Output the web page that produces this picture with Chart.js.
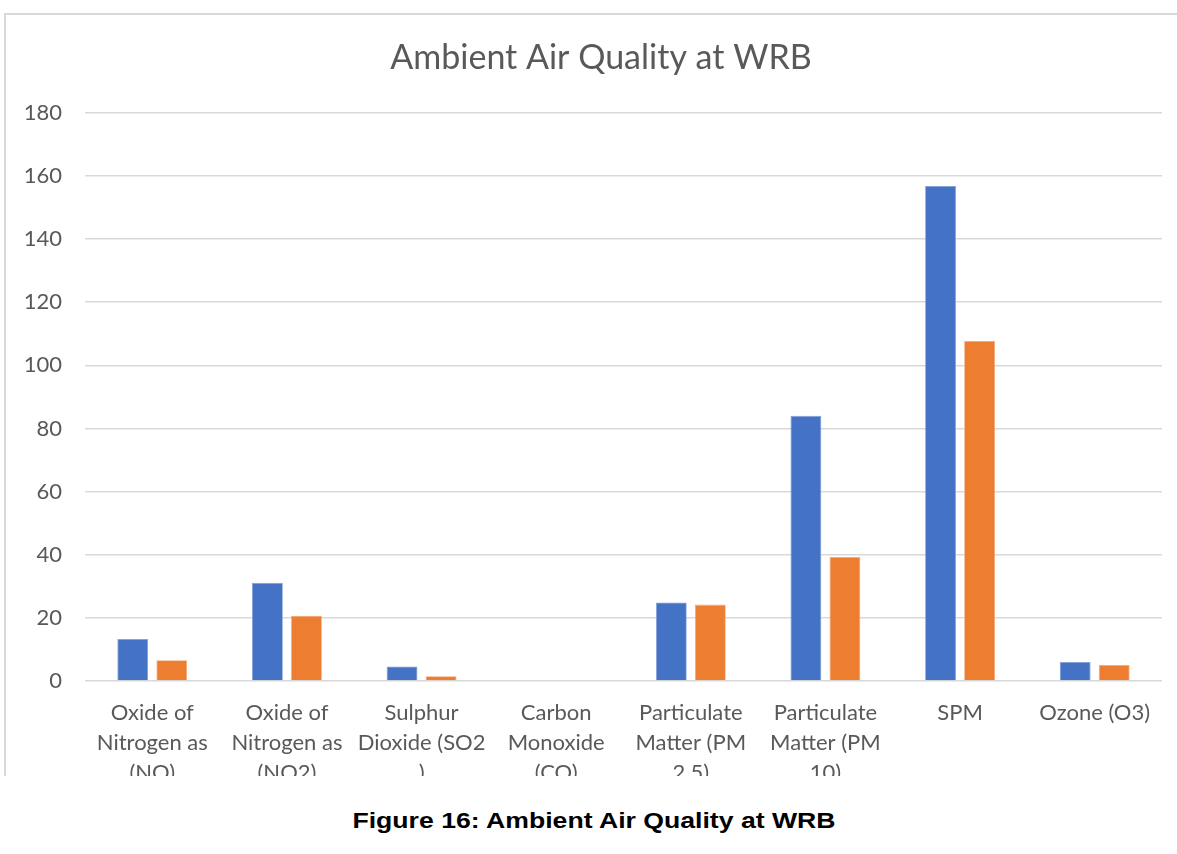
<!DOCTYPE html>
<html>
<head>
<meta charset="utf-8">
<script src="https://cdn.jsdelivr.net/npm/chart.js@4/dist/chart.umd.min.js"></script>
<style>
  html, body { margin: 0; padding: 0; background: #fff; width: 1177px; height: 854px; overflow: hidden; }
  #frame {
    position: absolute; left: 4px; top: 13px; width: 1200px; height: 761px;
    border-top: 2px solid #d9d9d9; border-left: 2px solid #d9d9d9; overflow: hidden;
  }
  #c { display: block; }
  #caption {
    position: absolute; left: 593.5px; top: 808px; white-space: nowrap;
    transform: translateX(-50%) scaleX(1.21);
    font: bold 22px "Liberation Sans", Arial, sans-serif; color: #000;
  }
</style>
</head>
<body>
<div id="frame"><canvas id="c" width="1190" height="800"></canvas></div>
<div id="caption">Figure 16: Ambient Air Quality at WRB</div>
<script>
// Pollutant categories (wrapped the way the axis shows them)
const categories = [
  ["Oxide of", "Nitrogen as", "(NO)"],
  ["Oxide of", "Nitrogen as", "(NO2)"],
  ["Sulphur", "Dioxide (SO2", ")"],
  ["Carbon", "Monoxide", "(CO)"],
  ["Particulate", "Matter (PM", "2.5)"],
  ["Particulate", "Matter (PM", "10)"],
  ["SPM"],
  ["Ozone (O3)"]
];
const series1 = [13.3, 31.1, 4.6, 0, 24.9, 84.0, 156.8, 6.0];
const series2 = [6.6, 20.7, 1.5, 0, 24.2, 39.3, 107.7, 5.1];
const yMin = 0, yMax = 180, yStep = 20;

const textGrey = '#595959';
const gridGrey = '#d9d9d9';
const family = 'Lato, "Open Sans", sans-serif';

new Chart(document.getElementById('c'), {
  type: 'bar',
  data: {
    labels: categories,
    datasets: [
      { label: 'Series1', data: series1, backgroundColor: '#4472C4', borderColor: '#7f9fdc', borderWidth: 0.8,
        categoryPercentage: 0.58, barPercentage: 0.79 },
      { label: 'Series2', data: series2, backgroundColor: '#ED7D31', borderColor: '#f5a878', borderWidth: 0.8,
        categoryPercentage: 0.58, barPercentage: 0.79 }
    ]
  },
  options: {
    responsive: false,
    animation: false,
    layout: { padding: 0 },
    plugins: {
      legend: { display: false },
      tooltip: { enabled: false },
      title: {
        display: true,
        text: 'Ambient Air Quality at WRB',
        color: textGrey,
        font: { family: family, size: 34, weight: 'normal' },
        padding: { top: 23, bottom: 34 }
      }
    },
    scales: {
      x: {
        grid: { display: false },
        border: { display: false },
        ticks: {
          color: textGrey,
          font: { family: family, size: 22, lineHeight: '30px' },
          padding: 9,
          maxRotation: 0,
          autoSkip: false
        },
        afterFit: (scale) => { scale.height = 134; }
      },
      y: {
        min: yMin, max: yMax,
        grid: { color: gridGrey, lineWidth: 1.5, drawTicks: false },
        border: { display: false },
        ticks: {
          stepSize: yStep,
          color: textGrey,
          font: { family: family, size: 22 },
          padding: 23
        },
        afterFit: (scale) => { scale.width = 79; }
      },
      // empty right-hand margin of the plot area
      yRight: {
        type: 'linear',
        position: 'right',
        grid: { display: false },
        border: { display: false },
        ticks: { display: false },
        afterFit: (scale) => { scale.width = 34; }
      }
    }
  }
});
</script>
</body>
</html>
